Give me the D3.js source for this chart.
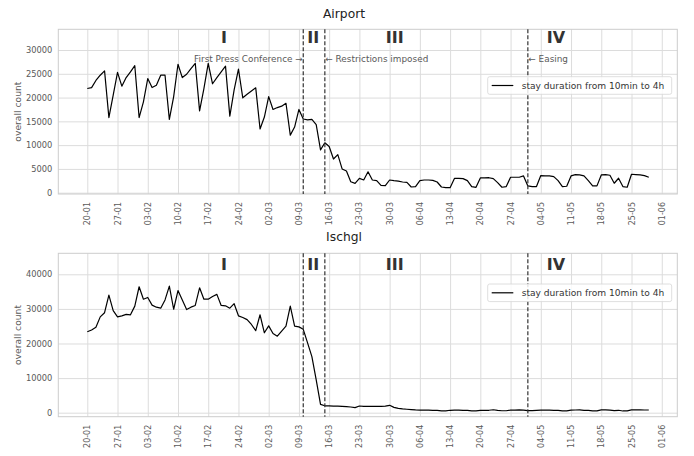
<!DOCTYPE html>
<html>
<head>
<meta charset="utf-8">
<script src="https://cdn.jsdelivr.net/npm/d3@7"></script>
<style>
  body { margin: 0; background: #fff; }
  svg { display: block; font-family: "DejaVu Sans", sans-serif; }
</style>
</head>
<body>
<svg id="chart" width="694" height="456"></svg>
<script>
// ---------------- DATA ----------------
const startDate = "2020-01-20"; // daily series start
const airport = [
  21900, 22100, 23600, 24700, 25600, 15800, 20500, 25300, 22400, 24200,
  25400, 26700, 15800, 19100, 24000, 22100, 22600, 24700, 24700, 15400,
  20200, 27000, 24200, 24900, 26100, 27200, 17200, 21900, 27200, 22900,
  24200, 25400, 26600, 16100, 21600, 26000, 19950, 20700, 21400, 22050,
  13400, 15900, 20200, 17500, 17900, 18200, 18800, 12100, 13800, 17500,
  15500, 15300, 15400, 14300, 9000, 10500, 9700, 7080, 8000, 5000,
  4560, 2300, 1970, 3000, 2670, 4400, 2670, 2530, 1550, 1480,
  2670, 2530, 2450, 2250, 2180, 1200, 1270, 2530, 2670, 2670,
  2600, 2250, 1200, 1060, 1060, 3000, 3000, 2950, 2530, 1270,
  1130, 3100, 3100, 3150, 2970, 2130, 1150, 1290, 3250, 3250,
  3250, 3530, 1430, 1290, 1290, 3600, 3530, 3530, 3390, 2550,
  1290, 1360, 3530, 3810, 3740, 3530, 2550, 1430, 1430, 3740,
  3810, 3670, 1990, 3040, 1290, 1150, 3880, 3810, 3740, 3600,
  3250
];
const ischgl = [
  23400, 23900, 24700, 27700, 28900, 34000, 29500, 27700, 28000, 28400,
  28300, 30800, 36400, 32800, 33300, 31100, 30500, 30200, 32600, 36600,
  29900, 35300, 32600, 29800, 30500, 31000, 36100, 32800, 32800, 33600,
  34200, 31000, 30900, 30200, 31500, 28000, 27500, 26900, 25500, 23700,
  28300, 23100, 25100, 22900, 22100, 23600, 25000, 30800, 25000, 24800,
  24100, 20200, 16200, 9500, 2400, 2000, 2000, 1900, 1900, 1850,
  1740, 1640, 1450, 1930, 1840, 1840, 1840, 1840, 1840, 1900,
  2130, 1550, 1260, 1100, 1000, 900, 800, 750, 720, 720,
  700, 650, 550, 550, 700, 720, 720, 700, 680, 550,
  520, 650, 700, 700, 850, 650, 560, 560, 750, 750,
  800, 750, 600, 580, 650, 720, 720, 750, 700, 650,
  500, 550, 750, 780, 800, 700, 650, 520, 550, 800,
  800, 750, 600, 700, 500, 520, 800, 800, 800, 780,
  780
];
const seriesLabel = "stay duration from 10min to 4h";
const titles = ["Airport", "Ischgl"];
const xTickDates = ["2020-01-20","2020-01-27","2020-02-03","2020-02-10","2020-02-17","2020-02-24",
  "2020-03-02","2020-03-09","2020-03-16","2020-03-23","2020-03-30","2020-04-06","2020-04-13",
  "2020-04-20","2020-04-27","2020-05-04","2020-05-11","2020-05-18","2020-05-25","2020-06-01"];
const yTicksAirport = [0, 5000, 10000, 15000, 20000, 25000, 30000];
const yTicksIschgl = [0, 10000, 20000, 30000, 40000];
const eventDates = ["2020-03-10", "2020-03-15", "2020-05-01"];
const phaseLabels = ["I", "II", "III", "IV"];
const phaseDates = ["2020-02-20T16:00", "2020-03-12T08:00", "2020-03-31T04:00", "2020-05-07T12:00"];
const annotations = [
  { text: "First Press Conference \u2192", date: "2020-03-10", anchor: "end" },
  { text: "\u2190 Restrictions imposed", date: "2020-03-15", anchor: "start" },
  { text: "\u2190 Easing", date: "2020-05-01", anchor: "start" }
];

// ---------------- DRAW ----------------
const svg = d3.select("#chart");
const parse = d3.utcParse("%Y-%m-%d");
const parseT = d3.utcParse("%Y-%m-%dT%H:%M");
const t0 = parse(startDate);
const day = 86400000;

const left = 58.3, right = 677.3;
const x = d3.scaleUtc()
  .domain([new Date(+t0 - 6.71 * day), new Date(+t0 + 136.6 * day)])
  .range([left, right]);

const panels = [
  { values: airport, title: titles[0], top: 29.3, bottom: 194, dom: [-273, 34352],
    ticks: yTicksAirport, titleY: 17.5, numY: 43, annY: 62, legY: 76.7, showAnn: true },
  { values: ischgl, title: titles[1], top: 253.3, bottom: 416.7, dom: [-1156, 46069],
    ticks: yTicksIschgl, titleY: 241, numY: 270, annY: 0, legY: 284, showAnn: false }
];

const gridColor = "#dcdcdc", textColor = "#5a5a5a";

panels.forEach(p => {
  const g = svg.append("g");
  const y = d3.scaleLinear().domain(p.dom).range([p.bottom, p.top]);

  g.append("rect").attr("x", left).attr("y", p.top)
    .attr("width", right - left).attr("height", p.bottom - p.top)
    .attr("fill", "#fff");

  const yAxis = d3.axisLeft(y).tickValues(p.ticks).tickSize(-(right - left)).tickPadding(6)
    .tickFormat(d3.format("d"));
  const ya = g.append("g").attr("transform", `translate(${left},0)`).call(yAxis);
  ya.select(".domain").remove();
  ya.selectAll(".tick line").attr("stroke", gridColor).attr("stroke-width", 1);
  ya.selectAll(".tick text").attr("fill", textColor).attr("font-size", 8.3)
    .attr("font-family", "DejaVu Sans");

  const xAxis = d3.axisBottom(x).tickValues(xTickDates.map(parse))
    .tickSize(-(p.bottom - p.top)).tickFormat(d3.utcFormat("%d-%m"));
  const xa = g.append("g").attr("transform", `translate(0,${p.bottom})`).call(xAxis);
  xa.select(".domain").remove();
  xa.selectAll(".tick line").attr("stroke", gridColor).attr("stroke-width", 1);
  xa.selectAll(".tick text").attr("fill", textColor).attr("font-size", 8)
    .attr("font-family", "DejaVu Sans")
    .attr("transform", "rotate(-90)")
    .attr("text-anchor", "end")
    .attr("x", -8).attr("y", 0).attr("dy", "0.32em");

  g.append("rect").attr("x", left).attr("y", p.top)
    .attr("width", right - left).attr("height", p.bottom - p.top)
    .attr("fill", "none").attr("stroke", "#cccccc").attr("stroke-width", 1);

  const line = d3.line()
    .x((d, i) => x(new Date(+t0 + i * day)))
    .y(d => y(d));
  g.append("path").datum(p.values).attr("d", line)
    .attr("fill", "none").attr("stroke", "#000").attr("stroke-width", 1.2)
    .attr("stroke-linejoin", "round");

  eventDates.forEach(ed => {
    const xx = x(parse(ed));
    g.append("line").attr("x1", xx).attr("x2", xx).attr("y1", p.top).attr("y2", p.bottom)
      .attr("stroke", "#333").attr("stroke-width", 1.2).attr("stroke-dasharray", "4,2");
  });

  phaseLabels.forEach((lab, i) => {
    g.append("text").attr("x", x(parseT(phaseDates[i]))).attr("y", p.numY)
      .attr("text-anchor", "middle").attr("font-weight", "bold").attr("font-size", 16)
      .attr("fill", "#333").text(lab);
  });

  if (p.showAnn) {
    annotations.forEach(a => {
      const xx = x(parse(a.date));
      g.append("text").attr("x", a.anchor === "end" ? xx - 0.5 : xx + 0.5).attr("y", p.annY)
        .attr("text-anchor", a.anchor).attr("font-size", 8.9).attr("fill", textColor)
        .text(a.text);
    });
  }

  const lg = g.append("g");
  lg.append("rect").attr("x", 487.7).attr("y", p.legY).attr("width", 184).attr("height", 17.6)
    .attr("rx", 2).attr("fill", "#fff").attr("fill-opacity", 0.85)
    .attr("stroke", "#d5d5d5").attr("stroke-width", 0.8);
  lg.append("line").attr("x1", 491.7).attr("x2", 513.3)
    .attr("y1", p.legY + 8.8).attr("y2", p.legY + 8.8)
    .attr("stroke", "#000").attr("stroke-width", 1.2);
  lg.append("text").attr("x", 521.7).attr("y", p.legY + 12.2)
    .attr("font-size", 9.1).attr("fill", "#333").text(seriesLabel);

  svg.append("text").attr("x", 344).attr("y", p.titleY).attr("text-anchor", "middle")
    .attr("font-size", 12.3).attr("fill", "#222").text(p.title);

  const cy = (p.top + p.bottom) / 2;
  svg.append("text").attr("transform", `translate(20.5,${cy}) rotate(-90)`)
    .attr("text-anchor", "middle").attr("font-size", 9.2).attr("fill", textColor)
    .text("overall count");
});
</script>
</body>
</html>
